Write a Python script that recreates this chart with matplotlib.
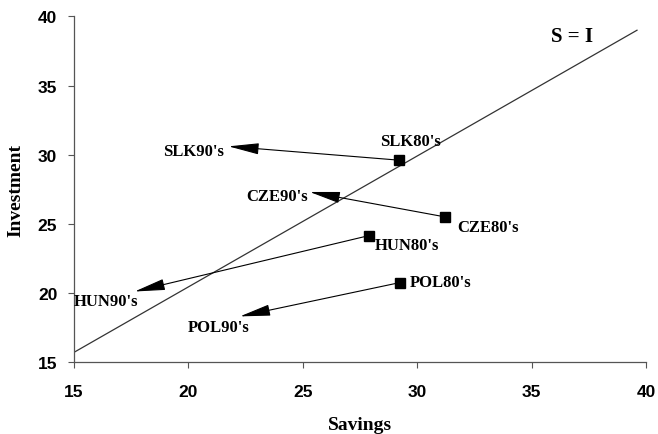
import matplotlib.pyplot as plt

# 80's positions (squares) and 90's positions (arrow tips)
countries = ['SLK', 'CZE', 'HUN', 'POL']
sav80 = [29.2, 31.2, 27.9, 29.25]
inv80 = [29.6, 25.5, 24.15, 20.75]
sav90 = [21.75, 25.3, 17.65, 22.25]
inv90 = [30.6, 27.3, 20.1, 18.3]

# label anchors for the 80's and 90's text
lab80_x = [29.7, 33.1, 29.55, 31.0]
lab80_y = [30.98, 24.75, 23.5, 20.76]
lab90_x = [21.55, 25.2, 16.4, 21.3]
lab90_y = [30.25, 27.0, 19.4, 17.5]
ha90 = ['right', 'right', 'center', 'center']

line_s = [15, 39.6]
line_i = [15.7, 39.0]

fig = plt.figure(figsize=(6.58, 4.35), dpi=100)
ax = fig.add_axes([0.1125, 0.1655, 0.8695, 0.7945])

ax.plot(line_s, line_i, color='#333333', lw=0.9)
ax.text(36.75, 38.6, 'S = I', family='Liberation Serif', fontweight='bold',
        fontsize=15, ha='center', va='center')

ax.plot(sav80, inv80, 's', color='black', ms=7)

for i, c in enumerate(countries):
    ax.annotate('', xy=(sav90[i], inv90[i]), xytext=(sav80[i], inv80[i]),
                arrowprops=dict(arrowstyle='-|>,head_length=1.9,head_width=0.35',
                                mutation_scale=10, lw=0.8, color='black',
                                shrinkA=0, shrinkB=0))
    ax.text(lab80_x[i], lab80_y[i], c + "80's", family='Liberation Serif',
            fontweight='bold', fontsize=12, ha='center', va='center')
    ax.text(lab90_x[i], lab90_y[i], c + "90's", family='Liberation Serif',
            fontweight='bold', fontsize=12, ha=ha90[i], va='center')

ax.set_xlim(15, 40)
ax.set_ylim(15, 40)
ax.set_xticks([15, 20, 25, 30, 35, 40])
ax.set_yticks([15, 20, 25, 30, 35, 40])
for s in ['top', 'right']:
    ax.spines[s].set_visible(False)
for s in ['left', 'bottom']:
    ax.spines[s].set_color('#555555')
    ax.spines[s].set_linewidth(0.9)
ax.tick_params(direction='out', length=4, color='#555555', labelsize=12.5)
for lab in ax.get_xticklabels() + ax.get_yticklabels():
    lab.set_family('Liberation Sans')
    lab.set_fontweight('bold')
ax.tick_params(axis='x', pad=12)
ax.tick_params(axis='y', pad=8)

ax.set_xlabel('Savings', family='Liberation Serif', fontweight='bold',
              fontsize=14, labelpad=12)
ax.set_ylabel('Investment', family='Liberation Serif', fontweight='bold',
              fontsize=14, labelpad=10)

plt.savefig('out.png', dpi=100)
